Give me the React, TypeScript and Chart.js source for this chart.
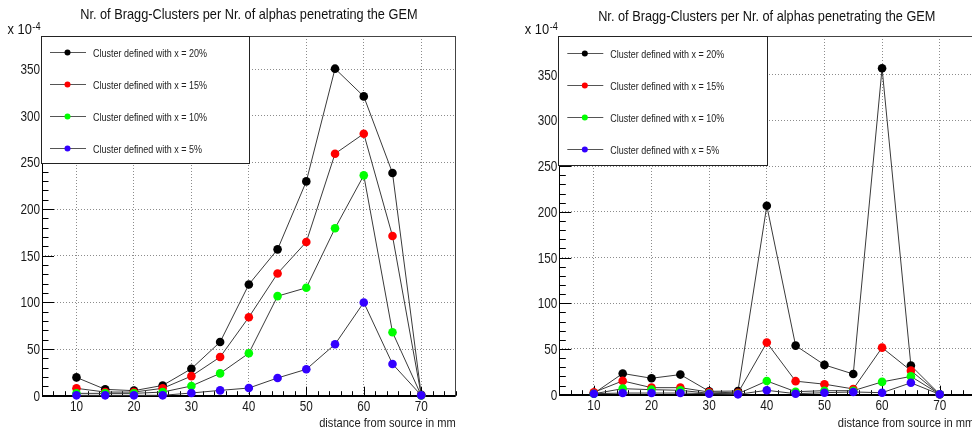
import React, { useEffect, useRef } from 'react';
import { Chart, registerables } from 'chart.js';

Chart.register(...registerables);

// ---------- data ----------
const distances = [10, 15, 20, 25, 30, 35, 40, 45, 50, 55, 60, 65, 70];
const seriesLabels = [
  'Cluster defined with x = 20%',
  'Cluster defined with x = 15%',
  'Cluster defined with x = 10%',
  'Cluster defined with x = 5%',
];
const seriesColors = ['#000000', '#ff0000', '#00ff00', '#3300ff'];

const leftX20 = [19.6, 6.8, 5.4, 11, 28.9, 57.5, 119.2, 156.8, 229.6, 350.4, 320.7, 238.6, 1];
const leftX15 = [7.9, 3.9, 3.9, 7.9, 21, 41.4, 84.1, 131, 164.7, 259.3, 280.7, 171.1, 0.5];
const leftX10 = [2.5, 2.5, 2.5, 3.9, 10.4, 23.9, 45.5, 106.7, 115.6, 179.4, 236.1, 68, 0.3];
const leftX5 = [0.4, 0.4, 0.4, 0.4, 2.9, 5.7, 8.2, 19, 28.3, 55.1, 99.9, 34, 0.4];

const rightX20 = [1.5, 23.2, 18, 22, 3.7, 4, 206.6, 53.7, 32.6, 22.6, 357, 31.9, 0.5];
const rightX15 = [2.6, 15.1, 7.7, 7.7, 2.9, 2, 57, 14.8, 11.5, 6.3, 51.5, 26.3, 0.5];
const rightX10 = [1, 6.6, 5.5, 4.8, 1.5, 1, 15, 3.3, 4.4, 4.4, 14, 20, 0.5];
const rightX5 = [1.1, 1.8, 1.8, 1.8, 1.1, 0.4, 4.8, 1.1, 2.2, 3, 2.2, 13, 0.4];

const xMajorTicks = [10, 20, 30, 40, 50, 60, 70];
const yMajorTicks = [0, 50, 100, 150, 200, 250, 300, 350];
const xRange = [4, 76];

const chartTitle = 'Nr. of Bragg-Clusters per Nr. of alphas penetrating the GEM';
const xAxisTitle = 'distance from source in mm';
const yExponentBase = 'x 10';
const yExponent = '-4';

// ---------- style ----------
const SANS = '"Liberation Sans", Arial, sans-serif';
const LINE_COLOR = '#3a3a3a';
const H = 434;

type Panel = {
  values: number[][];
  offset: number;
  width: number;
  chartLeft: number;
  chartRight: number;
  chartBottom: number;
  yMax: number;
  legendH: number;
  titleY: number;
};

const panels: Panel[] = [
  {
    values: [leftX20, leftX15, leftX10, leftX5],
    offset: 0, width: 486, chartLeft: 42, chartRight: 455.7, chartBottom: 395.7,
    yMax: 385.4, legendH: 126.6, titleY: 18.5,
  },
  {
    values: [rightX20, rightX15, rightX10, rightX5],
    offset: 486, width: 520, chartLeft: 73.3, chartRight: 488.3, chartBottom: 394.7,
    yMax: 392.3, legendH: 129.3, titleY: 20.5,
  },
];

// condensed text (Helvetica-narrow look)
function narrowText(
  ctx: CanvasRenderingContext2D,
  text: string,
  x: number,
  y: number,
  size: number,
  align: CanvasTextAlign,
  sx: number,
  color: string,
) {
  ctx.save();
  ctx.translate(x, y);
  ctx.scale(sx, 1);
  ctx.font = `${size}px ${SANS}`;
  ctx.textAlign = align;
  ctx.textBaseline = 'alphabetic';
  ctx.fillStyle = color;
  ctx.fillText(text, 0, 0);
  ctx.restore();
}

function makePlugin(panel: Panel) {
  return {
    id: 'rootFrame',
    beforeDatasetsDraw(chart: any) {
      const { ctx, chartArea: a, scales } = chart;
      const x = scales.x;
      const y = scales.y;
      ctx.save();
      // ticks, drawn inward
      ctx.strokeStyle = '#000';
      ctx.lineWidth = 1;
      ctx.beginPath();
      for (let v = 0; v <= panel.yMax; v += 10) {
        const py = Math.round(y.getPixelForValue(v)) + 0.5;
        const len = v % 50 === 0 ? 12 : 6.5;
        ctx.moveTo(a.left, py);
        ctx.lineTo(a.left + len, py);
      }
      for (let v = xRange[0]; v <= xRange[1]; v += 2) {
        const px = Math.round(x.getPixelForValue(v)) + 0.5;
        const len = v % 10 === 0 ? 9 : 4.5;
        ctx.moveTo(px, a.bottom);
        ctx.lineTo(px, a.bottom - len);
      }
      ctx.stroke();
      // frame: top + right thin
      ctx.strokeStyle = '#444';
      ctx.beginPath();
      ctx.moveTo(a.left, Math.floor(a.top) + 0.5);
      ctx.lineTo(a.right, Math.floor(a.top) + 0.5);
      ctx.moveTo(Math.floor(a.right) + 0.5, a.top);
      ctx.lineTo(Math.floor(a.right) + 0.5, a.bottom);
      ctx.stroke();
      // left axis
      ctx.strokeStyle = '#000';
      ctx.beginPath();
      ctx.moveTo(Math.floor(a.left) + 0.5, a.top);
      ctx.lineTo(Math.floor(a.left) + 0.5, a.bottom);
      ctx.stroke();
      // bottom axis (thick)
      ctx.lineWidth = 2;
      ctx.beginPath();
      ctx.moveTo(a.left, Math.round(a.bottom));
      ctx.lineTo(a.right, Math.round(a.bottom));
      ctx.stroke();
      ctx.restore();

      // tick labels from the scales
      yMajorTicks.forEach((v) => {
        narrowText(ctx, String(v), a.left - 2, y.getPixelForValue(v) + 5, 14, 'right', 0.84, '#1a1a1a');
      });
      xMajorTicks.forEach((v) => {
        narrowText(ctx, String(v), x.getPixelForValue(v), a.bottom + 15.5, 14, 'center', 0.84, '#1a1a1a');
      });
    },
    afterDatasetsDraw(chart: any) {
      const { ctx, chartArea: a } = chart;
      ctx.save();
      // legend box
      const lx = Math.floor(a.left) - 0.5;
      const ly = Math.floor(a.top) + 0.5;
      const lw = Math.round((a.right - a.left) / 2) + 1;
      const lh = Math.round(panel.legendH);
      ctx.fillStyle = '#fff';
      ctx.fillRect(lx, ly, lw, lh);
      ctx.strokeStyle = '#222';
      ctx.lineWidth = 1;
      ctx.strokeRect(lx, ly, lw, lh);
      seriesLabels.forEach((label, i) => {
        const ry = Math.round(ly + (lh * (i + 0.5)) / 4) + 0.5;
        ctx.strokeStyle = '#555';
        ctx.beginPath();
        ctx.moveTo(a.left + 8, ry);
        ctx.lineTo(a.left + 44, ry);
        ctx.stroke();
        ctx.fillStyle = seriesColors[i];
        ctx.beginPath();
        ctx.arc(a.left + 25.5, ry, 3, 0, Math.PI * 2);
        ctx.fill();
        narrowText(ctx, label, a.left + 51, ry + 4, 11.5, 'left', 0.78, '#222');
      });
      ctx.restore();
      // title
      narrowText(ctx, chartTitle, (a.left + a.right) / 2, panel.titleY, 15, 'center', 0.85, '#111');
      // exponent
      const ex = a.left - 34.5;
      narrowText(ctx, yExponentBase, ex, 34.3, 14, 'left', 0.92, '#111');
      ctx.save();
      ctx.font = `14px ${SANS}`;
      const w = ctx.measureText(yExponentBase).width * 0.92;
      ctx.restore();
      narrowText(ctx, yExponent, ex + w + 0.5, 30, 10, 'left', 0.92, '#111');
      // x axis title
      narrowText(ctx, xAxisTitle, a.right, 427, 13, 'right', 0.855, '#222');
    },
  };
}

function BraggPanel({ panel }: { panel: Panel }) {
  const ref = useRef<HTMLCanvasElement>(null);
  useEffect(() => {
    const canvas = ref.current;
    if (!canvas) return;
    const chart = new Chart(canvas, {
      type: 'line',
      data: {
        datasets: seriesLabels.map((label, i) => ({
          label,
          data: distances.map((d, j) => ({ x: d, y: panel.values[i][j] })),
          borderColor: LINE_COLOR,
          borderWidth: 1,
          pointRadius: 4.3,
          pointHoverRadius: 4.3,
          pointBackgroundColor: seriesColors[i],
          pointBorderColor: seriesColors[i],
          pointBorderWidth: 0,
          order: seriesLabels.length - i,
          clip: false,
          tension: 0,
          fill: false,
        })),
      },
      options: {
        responsive: false,
        animation: false,
        events: [],
        layout: { padding: { top: 36, left: 0, bottom: 0, right: panel.width - panel.chartRight } },
        plugins: { legend: { display: false }, tooltip: { enabled: false }, title: { display: false } },
        scales: {
          x: {
            type: 'linear',
            min: xRange[0],
            max: xRange[1],
            afterBuildTicks: (axis: any) => {
              axis.ticks = xMajorTicks.map((value) => ({ value }));
            },
            afterFit: (s: any) => {
              s.height = H - panel.chartBottom;
            },
            ticks: { display: false },
            grid: { drawTicks: false, color: '#8c8c8c', lineWidth: 1 },
            border: { display: false, dash: [1, 2] },
          },
          y: {
            type: 'linear',
            min: 0,
            max: panel.yMax,
            afterBuildTicks: (axis: any) => {
              axis.ticks = yMajorTicks.map((value) => ({ value }));
            },
            afterFit: (s: any) => {
              s.width = panel.chartLeft;
            },
            ticks: { display: false },
            grid: {
              drawTicks: false,
              lineWidth: 1,
              color: (c: any) => (c.tick && c.tick.value === 0 ? 'rgba(0,0,0,0)' : '#8c8c8c'),
            },
            border: { display: false, dash: [1, 2] },
          },
        },
      } as any,
      plugins: [makePlugin(panel)],
    });
    return () => chart.destroy();
  }, [panel]);
  return (
    <canvas
      ref={ref}
      width={panel.width}
      height={H}
      style={{ position: 'absolute', left: panel.offset, top: 0, width: panel.width, height: H }}
    />
  );
}

export default function App() {
  return (
    <div
      style={{
        position: 'fixed',
        left: 0,
        top: 0,
        width: 972,
        height: H,
        overflow: 'hidden',
        background: '#fff',
      }}
    >
      {panels.map((p, i) => (
        <BraggPanel key={i} panel={p} />
      ))}
    </div>
  );
}
